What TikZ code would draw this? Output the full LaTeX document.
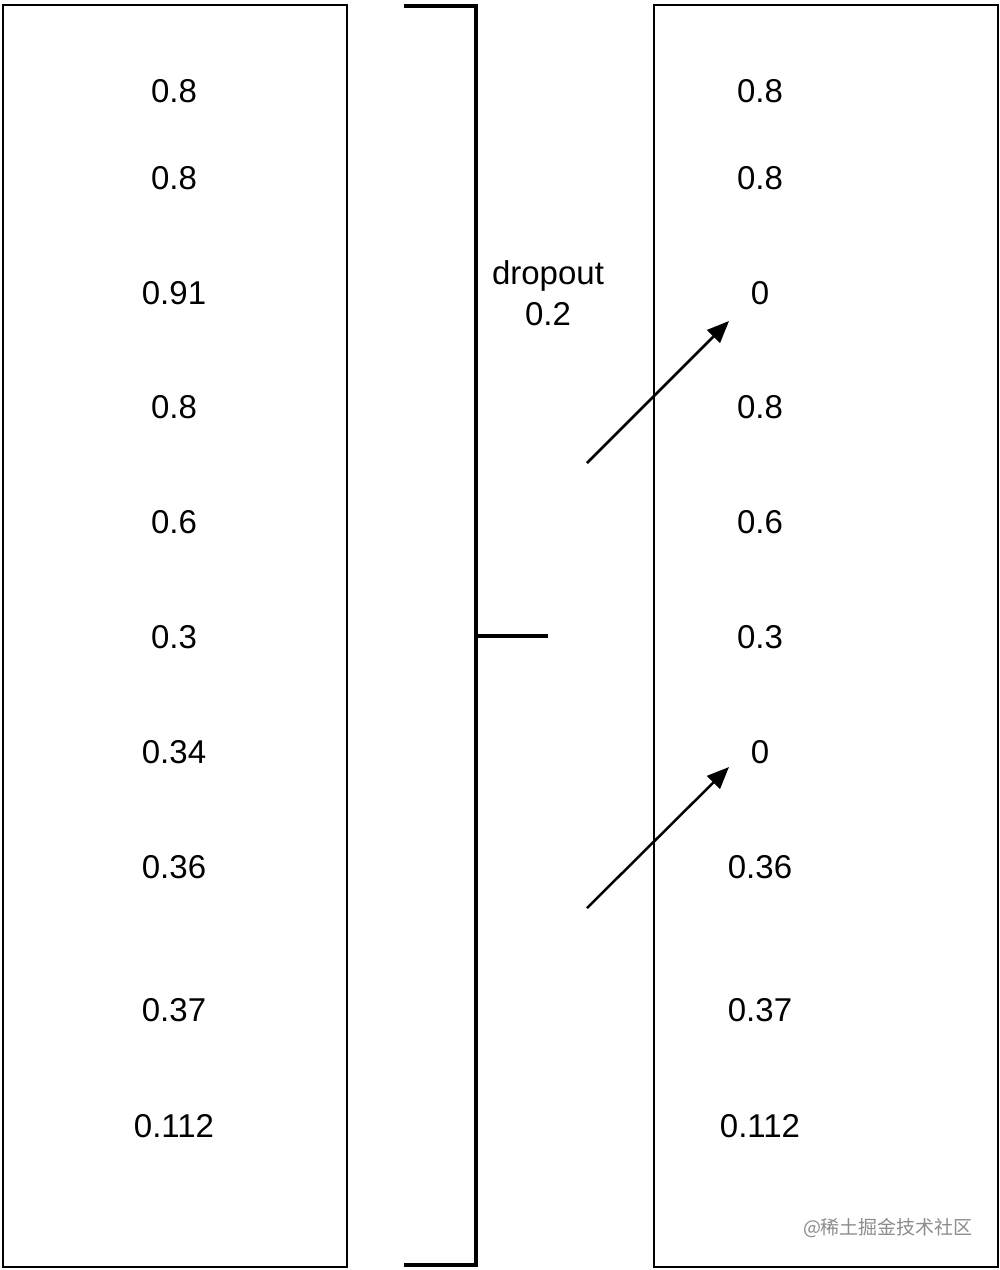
\documentclass[tikz,border=0pt]{standalone}
\usepackage{fontspec}
\setmainfont{Liberation Sans}
\newfontfamily\cjk{Noto Sans CJK SC}
\usetikzlibrary{arrows.meta}
\begin{document}
\begin{tikzpicture}[x=1pt,y=-1pt,
  box/.style={draw=black,line width=2.5pt},
  val/.style={font=\fontsize{33}{38}\selectfont,inner sep=0pt,anchor=center},
  brk/.style={line width=4pt,line cap=butt},
  arr/.style={line width=2.5pt,-{Triangle[length=22pt,width=18pt]}}]
\useasboundingbox (0,0) rectangle (1000,1270);
\fill[white] (0,0) rectangle (1000,1270);
\draw[box] (3,5) rectangle (347,1267);
\draw[box] (654,5) rectangle (998,1267);
% bracket
\draw[brk] (404,6) -- (476,6) -- (476,1265) -- (404,1265);
\draw[brk] (476,636) -- (548,636);
\node[val,align=center] (lbl) at (548,293) {dropout\\[3pt]0.2};
% left values
\foreach \v/\y [count=\i] in {0.8/91,0.8/178,0.91/293,0.8/407,0.6/522,0.3/637,0.34/752,0.36/867,0.37/1010,0.112/1126}
  \node[val] (L\i) at (174,\y) {\v};
% right values
\foreach \v/\y [count=\i] in {0.8/91,0.8/178,0/293,0.8/407,0.6/522,0.3/637,0/752,0.36/867,0.37/1010,0.112/1126}
  \node[val] (R\i) at (760,\y) {\v};
\coordinate (a1s) at (587,463);
\coordinate (a1e) at (729,321);
\coordinate (a2s) at (587,908);
\coordinate (a2e) at (729,767);
\draw[arr] (a1s) -- (a1e);
\draw[arr] (a2s) -- (a2e);
\node[text=black!45,font=\cjk\fontsize{19}{22}\selectfont,inner sep=0pt] (wm) at (888,1228) {@稀土掘金技术社区};
\end{tikzpicture}
\end{document}
